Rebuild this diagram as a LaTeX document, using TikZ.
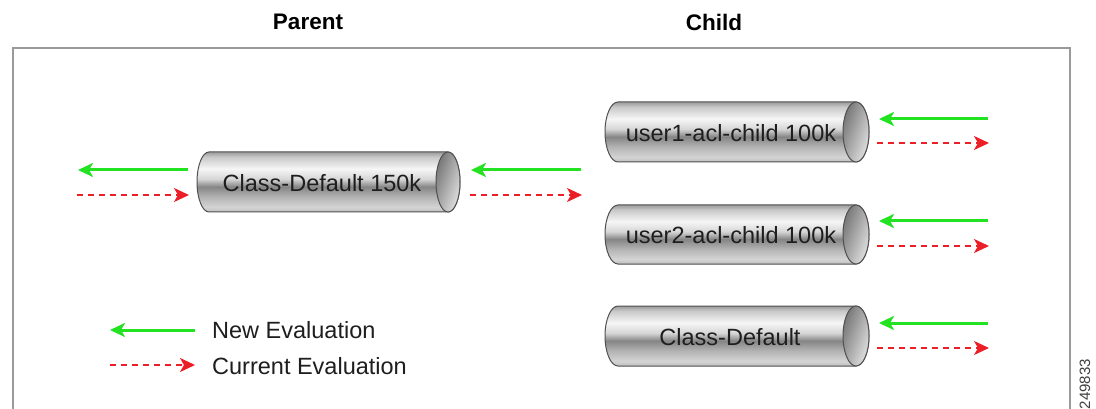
\documentclass[tikz,border=0pt]{standalone}
\usepackage{fontspec}
\setmainfont{Liberation Sans}
\usetikzlibrary{arrows.meta}
\definecolor{framegray}{HTML}{9A9A9A}
\definecolor{newgreen}{RGB}{34,226,34}
\definecolor{curred}{RGB}{236,30,38}
\definecolor{cylline}{HTML}{505050}
\definecolor{txtdark}{HTML}{1E1E1E}
\definecolor{endL}{HTML}{747474}
\definecolor{endR}{HTML}{E2E2E2}
\definecolor{mA}{HTML}{9A9A9A}
\definecolor{mB}{HTML}{C8C8C8}
\definecolor{mC}{HTML}{F6F6F6}
\definecolor{mD}{HTML}{D6D6D6}
\definecolor{mE}{HTML}{858585}
\definecolor{mF}{HTML}{B4B4B4}
\definecolor{mG}{HTML}{D4D4D4}
\definecolor{mH}{HTML}{BDBDBD}
\pgfdeclareverticalshading{metalcyl}{100bp}{%
  color(0bp)=(mH); color(25bp)=(mH); color(29bp)=(mG); color(37.5bp)=(mF);
  color(46bp)=(mE); color(52.5bp)=(mD); color(61bp)=(mC); color(71bp)=(mB);
  color(75bp)=(mA); color(100bp)=(mA)}
\tikzset{
  cylbody/.style={draw=cylline, line width=1pt, shading=metalcyl},
  cylend/.style={draw=cylline, line width=1pt, shading=axis, left color=endL, right color=endR, shading angle=70},
  cyltext/.style={font=\fontsize{23.5}{28}\selectfont, text=txtdark, inner sep=0pt},
  titletext/.style={font=\fontsize{22.5}{27}\selectfont\bfseries, text=black, inner sep=0pt},
  legtext/.style={font=\fontsize{23.5}{28}\selectfont, text=txtdark, inner sep=0pt, anchor=west},
  newarrow/.style={draw=newgreen, line width=3pt, -{Stealth[length=15pt, width=14pt, inset=4pt]}},
  curarrow/.style={draw=curred, line width=2pt, dash pattern=on 6pt off 5pt, -{Stealth[length=15pt, width=14pt, inset=4pt]}},
}
\newcommand\drawcyl[5]{%
  \pgfmathsetmacro\cylry{(#4-#3)/2}%
  \pgfmathsetmacro\cylcy{(#3+#4)/2}%
  \path[cylbody] (#1+#5,#3) -- (#2,#3) arc[start angle=-90,end angle=90,x radius=#5,y radius=\cylry] -- (#1+#5,#4) arc[start angle=90,end angle=270,x radius=#5,y radius=\cylry] -- cycle;
  \path[cylend] (#2,\cylcy) ellipse[x radius=#5, y radius=\cylry];
}
\begin{document}
\begin{tikzpicture}[x=1pt,y=-1pt]
\path[use as bounding box] (0,0) rectangle (1096,409);
\clip (0,0) rectangle (1096,409);
\fill[white] (0,0) rectangle (1096,409);
% frame
\draw[framegray, line width=2pt] (13,430) -- (13,48) -- (1070,48) -- (1070,430);
% titles
\node[titletext] (tparent) at (308,22) {Parent};
\node[titletext] (tchild) at (714,22) {Child};
% cylinders
\drawcyl{197}{448}{152}{212}{12}
\drawcyl{605}{856}{102}{162}{13}
\drawcyl{605}{856}{205}{264}{13}
\drawcyl{605}{856}{306}{366}{13}
\node[cyltext] (cparent) at (322,183) {Class-Default 150k};
\node[cyltext] (cuser1) at (731,133) {user1-acl-child 100k};
\node[cyltext] (cuser2) at (731,235) {user2-acl-child 100k};
\node[cyltext] (cdefault) at (730,337) {Class-Default};
% arrow end points
\coordinate (pl1) at (188,170); \coordinate (pl2) at (78,170);
\coordinate (pl3) at (77,195);  \coordinate (pl4) at (189,195);
\coordinate (pr1) at (581,170); \coordinate (pr2) at (471,170);
\coordinate (pr3) at (470,195); \coordinate (pr4) at (582,195);
\coordinate (ua1) at (988,119); \coordinate (ua2) at (879,119);
\coordinate (ua3) at (877,143); \coordinate (ua4) at (989,143);
\coordinate (ub1) at (988,221); \coordinate (ub2) at (879,221);
\coordinate (ub3) at (877,246); \coordinate (ub4) at (989,246);
\coordinate (uc1) at (988,323); \coordinate (uc2) at (879,323);
\coordinate (uc3) at (877,348); \coordinate (uc4) at (989,348);
\coordinate (lg1) at (195,330); \coordinate (lg2) at (110,330);
\coordinate (lg3) at (110,365); \coordinate (lg4) at (195,365);
\draw[newarrow] (pl1) -- (pl2);
\draw[curarrow] (pl3) -- (pl4);
\draw[newarrow] (pr1) -- (pr2);
\draw[curarrow] (pr3) -- (pr4);
\draw[newarrow] (ua1) -- (ua2);
\draw[curarrow] (ua3) -- (ua4);
\draw[newarrow] (ub1) -- (ub2);
\draw[curarrow] (ub3) -- (ub4);
\draw[newarrow] (uc1) -- (uc2);
\draw[curarrow] (uc3) -- (uc4);
\draw[newarrow] (lg1) -- (lg2);
\draw[curarrow] (lg3) -- (lg4);
% legend
\node[legtext] (lnew) at (212,330) {New Evaluation};
\node[legtext] (lcur) at (212,366) {Current Evaluation};
% figure number
\node[font=\fontsize{15}{18}\selectfont, text=black!75, rotate=90, inner sep=0pt] (fignum) at (1085,384) {249833};
\end{tikzpicture}
\end{document}
